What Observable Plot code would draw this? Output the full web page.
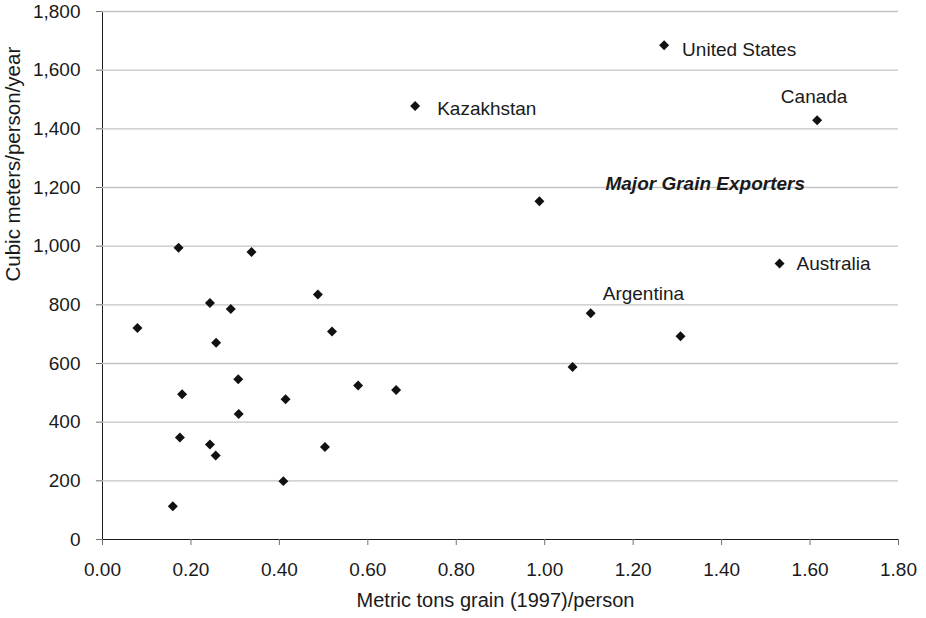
<!DOCTYPE html>
<html><head><meta charset="utf-8">
<script src="https://cdn.jsdelivr.net/npm/d3@7"></script>
<script src="https://cdn.jsdelivr.net/npm/@observablehq/plot@0.6"></script>
<style>
body{margin:0;background:#fff}
#chart svg{font-family:"Liberation Sans",Arial,sans-serif}
#chart [aria-label*="axis"] line, #chart [aria-label*="axis"] path{stroke:#707070}
</style></head><body><div id="chart"></div>
<script>
const countries = ["", "", "", "", "", "", "", "", "", "", "", "", "", "", "", "", "", "", "", "", "", "", "",
  "Argentina", "United States", "Kazakhstan", "Canada", "Australia"];
const grainPerPerson = [0.079, 0.172, 0.337, 0.243, 0.290, 0.257, 0.487, 0.519, 0.180, 0.307, 0.308, 0.414, 0.578,
  0.175, 0.243, 0.256, 0.503, 0.409, 0.159, 0.664, 1.063, 1.307, 0.988,
  1.104, 1.270, 0.707, 1.616, 1.531];
const waterPerPerson = [721, 995, 980, 806, 786, 671, 835, 709, 495, 546, 428, 478, 525,
  348, 324, 286, 315, 199, 113, 510, 588, 693, 1153,
  771, 1685, 1478, 1429, 941];
const xTicks = [0, 0.2, 0.4, 0.6, 0.8, 1.0, 1.2, 1.4, 1.6, 1.8];
const yTicks = [0, 200, 400, 600, 800, 1000, 1200, 1400, 1600, 1800];
const gridValues = [200, 400, 600, 800, 1000, 1200, 1400, 1600, 1800];
const xTitle = "Metric tons grain (1997)/person";
const yTitle = "Cubic meters/person/year";
const noteText = ["Major Grain Exporters"];
const noteGrain = [1.363];
const noteWater = [1213];

const data = countries.map((c, i) => ({country: c, grain: grainPerPerson[i], water: waterPerPerson[i]}));
const notes = noteText.map((t, i) => ({text: t, grain: noteGrain[i], water: noteWater[i]}));
const lab = (name) => data.filter(d => d.country === name);

const chart = Plot.plot({
  width: 926,
  height: 618,
  marginTop: 11,
  marginRight: 28,
  marginBottom: 79,
  marginLeft: 102,
  style: {fontFamily: '"Liberation Sans", Arial, sans-serif', fontSize: "19px", color: "#1a1a1a", background: "#fff"},
  x: {domain: [0, 1.8], ticks: xTicks, tickFormat: d3.format(".2f"), tickSize: 6, tickPadding: 17, label: null, line: true},
  y: {domain: [0, 1800], ticks: yTicks, tickFormat: d3.format(","), tickSize: 6, tickPadding: 16, label: null, line: true},
  marks: [
    Plot.ruleY(gridValues, {stroke: "#c4c4c4", strokeWidth: 1.3}),
    Plot.dot(data, {x: "grain", y: "water", symbol: "diamond2", r: 4.5, fill: "#111", stroke: "none"}),
    Plot.text(lab("Kazakhstan"), {x: "grain", y: "water", text: "country", textAnchor: "start", dx: 22, dy: 3, fill: "#1a1a1a"}),
    Plot.text(lab("United States"), {x: "grain", y: "water", text: "country", textAnchor: "start", dx: 18, dy: 5, fill: "#1a1a1a"}),
    Plot.text(lab("Canada"), {x: "grain", y: "water", text: "country", textAnchor: "middle", dx: -3, dy: -23, fill: "#1a1a1a"}),
    Plot.text(lab("Australia"), {x: "grain", y: "water", text: "country", textAnchor: "start", dx: 17, dy: 0, fill: "#1a1a1a"}),
    Plot.text(lab("Argentina"), {x: "grain", y: "water", text: "country", textAnchor: "start", dx: 12, dy: -19, fill: "#1a1a1a"}),
    Plot.text(notes, {x: "grain", y: "water", text: "text", fontWeight: "bold", fontStyle: "italic", fill: "#1a1a1a"}),
    Plot.text([xTitle], {frameAnchor: "bottom", text: d => d, fontSize: 20, dy: 67, dx: -5, fill: "#1a1a1a"}),
    Plot.text([yTitle], {frameAnchor: "left", text: d => d, fontSize: 20.5, rotate: -90, dx: -89, dy: 6, fill: "#1a1a1a"})
  ]
});
document.getElementById("chart").appendChild(chart);
</script></body></html>
